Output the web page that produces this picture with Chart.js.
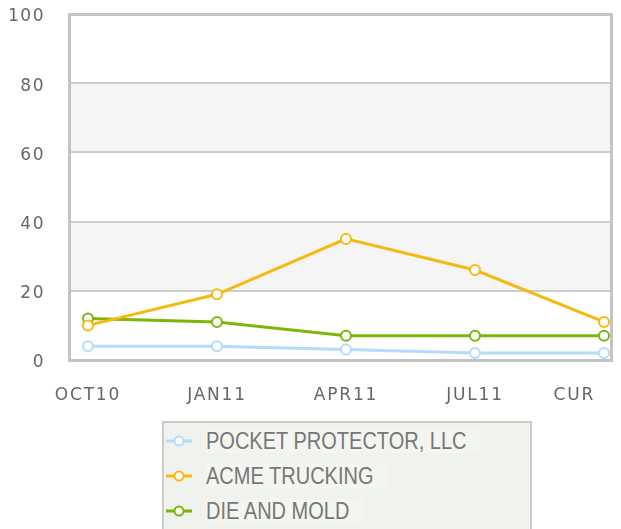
<!DOCTYPE html>
<html>
<head>
<meta charset="utf-8">
<script src="https://cdn.jsdelivr.net/npm/chart.js@4/dist/chart.umd.min.js"></script>
<style>
body { margin: 0; background: #fff; }
#wrap { position: relative; width: 621px; height: 529px; overflow: hidden; }
#legend {
    position: absolute; left: 162px; top: 421px; width: 366px; height: 120px;
    border: 2px solid #ccc; background: #eff2ed;
    font-family: 'Liberation Sans Narrow', 'Arial Narrow', 'Liberation Sans', sans-serif;
    font-size: 23px; color: #777;
}
.item { position: absolute; left: 0; height: 30px; width: 360px; }
.item .sym { position: absolute; left: 2px; top: 0; width: 26px; height: 30px; }
.item .txt {
    position: absolute; left: 42px; top: 3px; line-height: 24px; white-space: nowrap;
    background: #f2f5f0; padding-right: 16px;
    transform: scaleX(0.87); transform-origin: left center;
}
</style>
</head>
<body>
<div id="wrap">
    <canvas id="myChart" width="621" height="529"></canvas>
    <div id="legend"></div>
</div>
<script>
// chart data
const periods = ['OCT10', 'JAN11', 'APR11', 'JUL11', 'CUR'];
const pocketProtector = [4, 4, 3, 2, 2];
const acmeTrucking = [10, 19, 35, 26, 11];
const dieAndMold = [12, 11, 7, 7, 7];
const yTicks = [0, 20, 40, 60, 80, 100];

const seriesNames = ['POCKET PROTECTOR, LLC', 'ACME TRUCKING', 'DIE AND MOLD'];
const seriesColors = ['#b5dbf6', '#f5b914', '#7cb50c'];
const seriesValues = [pocketProtector, acmeTrucking, dieAndMold];

// turns an array into points on the index axis
function toPoints(values) {
    return values.map((v, i) => ({x: i, y: v}));
}

// alternating grey bands + frame behind the lines
const bandPlugin = {
    id: 'bands',
    beforeDraw(chart) {
        const c = chart.ctx, a = chart.chartArea, y = chart.scales.y;
        c.save();
        c.fillStyle = '#fff';
        c.fillRect(0, 0, chart.width, chart.height);
        c.fillStyle = '#f5f5f5';
        for (let i = 0; i < yTicks.length - 1; i++) {
            if (i % 2 === 1) {
                const top = y.getPixelForValue(yTicks[i + 1]);
                const bot = y.getPixelForValue(yTicks[i]);
                c.fillRect(a.left, top, a.right - a.left, bot - top);
            }
        }
        c.restore();
    },
    beforeDatasetsDraw(chart) {
        const c = chart.ctx, a = chart.chartArea;
        c.save();
        c.strokeStyle = '#c4c4c4';
        c.lineWidth = 3;
        c.strokeRect(a.left + 0.5, a.top + 0.5, a.right - a.left - 1, a.bottom - a.top);
        c.restore();
    }
};

// category labels under the plot, kept inside the canvas
const xLabelPlugin = {
    id: 'xlabels',
    afterDraw(chart) {
        const c = chart.ctx, x = chart.scales.x;
        c.save();
        c.font = '17px "DejaVu Sans"';
        c.letterSpacing = '1.8px';
        c.fillStyle = '#666';
        c.textAlign = 'center';
        c.textBaseline = 'middle';
        periods.forEach((lab, i) => {
            let px = x.getPixelForValue(i);
            const w = c.measureText(lab).width;
            if (px + w / 2 > chart.width - 26) px = chart.width - 26 - w / 2;
            c.fillText(lab, px, 396);
        });
        c.restore();
    }
};

const spacingPlugin = {
    id: 'spacing',
    afterInit(chart) { chart.ctx.letterSpacing = '1.5px'; },
    beforeDraw(chart) { chart.ctx.letterSpacing = '1.5px'; }
};

const ctx = document.getElementById('myChart');
const myChart = new Chart(ctx, {
    type: 'line',
    data: {
        datasets: seriesNames.map((name, i) => ({
            label: name,
            data: toPoints(seriesValues[i]),
            borderColor: seriesColors[i],
            backgroundColor: '#fff',
            pointBackgroundColor: '#fff',
            pointBorderColor: seriesColors[i],
            borderWidth: 3,
            pointRadius: 5,
            pointBorderWidth: 2,
            tension: 0
        }))
    },
    options: {
        responsive: false,
        animation: false,
        layout: {padding: {top: 14, right: 9, bottom: 169, left: 0}},
        plugins: {legend: {display: false}, tooltip: {enabled: false}},
        scales: {
            x: {
                type: 'linear',
                min: -0.147,
                max: 4.062,
                display: false
            },
            y: {
                min: 0,
                max: 100,
                afterFit(scale) {
                    scale.width = 69;
                    scale.paddingTop = 0;
                    scale.paddingBottom = 0;
                },
                afterBuildTicks(scale) { scale.ticks = yTicks.map(v => ({value: v})); },
                grid: {color: '#cccccc', lineWidth: 2, drawTicks: false},
                border: {display: false},
                ticks: {
                    padding: 24,
                    labelOffset: 3,
                    color: '#666',
                    font: {family: 'DejaVu Sans', size: 17}
                }
            }
        }
    },
    plugins: [spacingPlugin, bandPlugin, xLabelPlugin]
});

// build html legend from the datasets
const legendBox = document.getElementById('legend');
myChart.data.datasets.forEach((ds, i) => {
    const item = document.createElement('div');
    item.className = 'item';
    item.style.top = (3 + i * 35) + 'px';
    item.innerHTML = '<svg class="sym" width="26" height="30">' +
        '<line x1="0" y1="15" x2="26" y2="15" stroke="' + ds.borderColor + '" stroke-width="3"/>' +
        '<circle cx="13" cy="15" r="4.5" fill="#fff" stroke="' + ds.borderColor + '" stroke-width="2"/></svg>' +
        '<span class="txt">' + ds.label + '</span>';
    legendBox.appendChild(item);
});
</script>
</body>
</html>
